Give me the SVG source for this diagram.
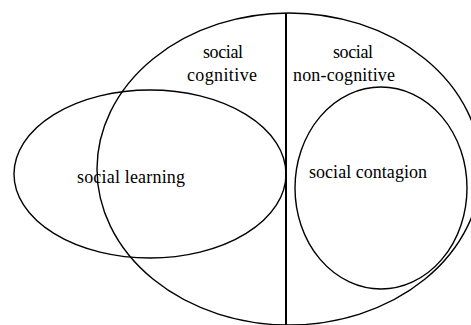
<svg xmlns="http://www.w3.org/2000/svg" width="471" height="325" viewBox="0 0 471 325">
<style>
.s{fill:none;stroke:#000;stroke-width:1.4}
.t{font-family:"Liberation Serif","Times New Roman",serif;font-size:18px;fill:#000}
</style>
<rect width="471" height="325" fill="#fff"/>
<g id="connectors">
<line x1="286" y1="13" x2="286" y2="325" stroke="#000" stroke-width="2"/>
</g>
<g id="social-cognitive-area">
<ellipse class="s" cx="289" cy="169" rx="192" ry="156"/>
<text class="t" x="223" y="58" text-anchor="middle" textLength="40">social</text>
<text class="t" x="222" y="81" text-anchor="middle" textLength="70">cognitive</text>
<text class="t" x="353" y="58" text-anchor="middle" textLength="40">social</text>
<text class="t" x="344" y="81" text-anchor="middle" textLength="102">non-cognitive</text>
</g>
<g id="social-learning">
<ellipse class="s" cx="150" cy="174" rx="136" ry="84"/>
<text class="t" x="131" y="183" text-anchor="middle" textLength="108">social learning</text>
</g>
<g id="social-contagion">
<ellipse class="s" cx="381" cy="188" rx="86" ry="101"/>
<text class="t" x="368" y="178" text-anchor="middle" textLength="118">social contagion</text>
</g>
</svg>
